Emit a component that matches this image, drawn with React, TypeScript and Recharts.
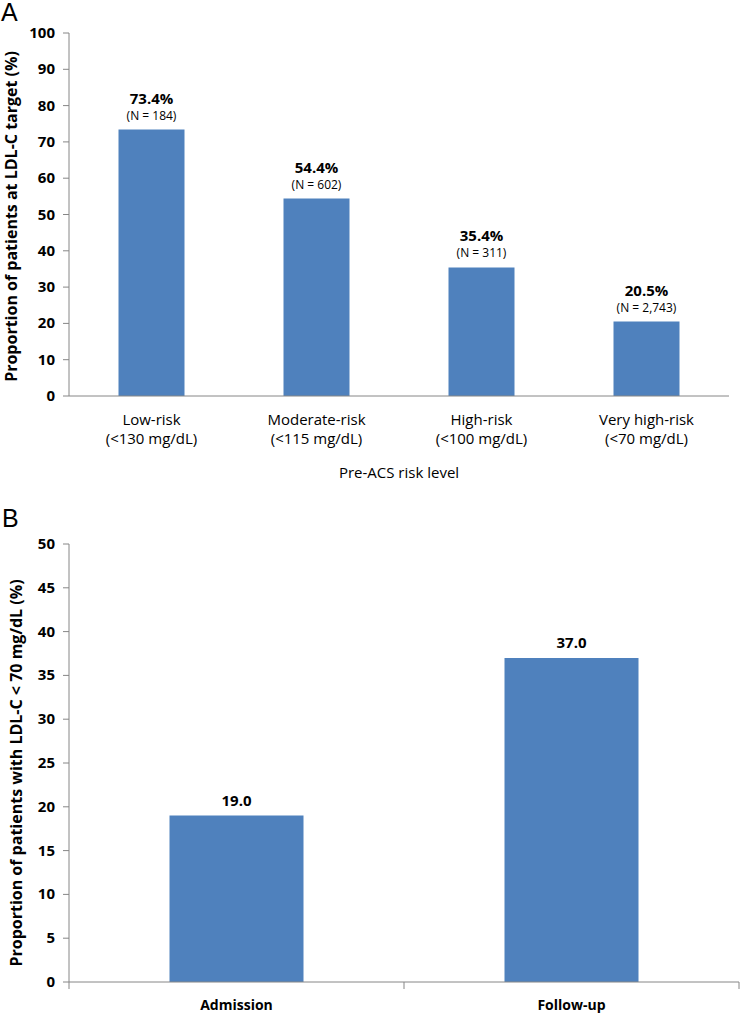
import { Bar, BarChart, LabelList, XAxis, YAxis } from "recharts";

const riskLevels = ["Low-risk", "Moderate-risk", "High-risk", "Very high-risk"];
const riskTargets = ["(<130 mg/dL)", "(<115 mg/dL)", "(<100 mg/dL)", "(<70 mg/dL)"];
const atTarget = [73.4, 54.4, 35.4, 20.5];
const patientCounts = ["184", "602", "311", "2,743"];
const ticksA = [0, 10, 20, 30, 40, 50, 60, 70, 80, 90, 100];

const timepoints = ["Admission", "Follow-up"];
const below70 = [19.0, 37.0];
const ticksB = [0, 5, 10, 15, 20, 25, 30, 35, 40, 45, 50];

const FONT = "'Open Sans', sans-serif";
const BLUE = "#4F81BD";
const AXIS = "#868686";

const dataA = riskLevels.map((name, i) => ({
  name,
  target: riskTargets[i],
  value: atTarget[i],
  n: patientCounts[i],
}));

const dataB = timepoints.map((name, i) => ({ name, value: below70[i] }));

const TickA = (props: any) => {
  const { x, y, payload, index } = props;
  return (
    <g>
      <text x={x} y={y + 21} textAnchor="middle" fontSize={15} fontFamily={FONT} fill="#000">
        {payload.value}
      </text>
      <text x={x} y={y + 40} textAnchor="middle" fontSize={15} fontFamily={FONT} fill="#000">
        {dataA[index]?.target}
      </text>
    </g>
  );
};

const TickB = (props: any) => {
  const { x, y, payload, index } = props;
  const off = payload.offset ?? 0;
  return (
    <g>
      <line x1={x - off} x2={x - off} y1={y - 8} y2={y - 1} stroke={AXIS} />
      {index === dataB.length - 1 && (
        <line x1={x + off} x2={x + off} y1={y - 8} y2={y - 1} stroke={AXIS} />
      )}
      <text x={x} y={y + 20} textAnchor="middle" fontSize={14} fontWeight="bold" fontFamily={FONT} fill="#000">
        {payload.value}
      </text>
    </g>
  );
};

const YTick = (props: any) => {
  const { x, y, payload } = props;
  return (
    <text x={x - 6} y={y + 5} textAnchor="end" fontSize={15} fontWeight="bold" fontFamily={FONT} fill="#000">
      {payload.value}
    </text>
  );
};

const LabelA = (props: any) => {
  const { x, y, width, index } = props;
  const cx = x + width / 2;
  return (
    <g>
      <text x={cx} y={y - 26} textAnchor="middle" fontSize={15} fontWeight="bold" fontFamily={FONT} fill="#000">
        {atTarget[index].toFixed(1)}%
      </text>
      <text x={cx} y={y - 10} textAnchor="middle" fontSize={12} fontFamily={FONT} fill="#000">
        (N = {patientCounts[index]})
      </text>
    </g>
  );
};

const LabelB = (props: any) => {
  const { x, y, width, index } = props;
  return (
    <text x={x + width / 2} y={y - 10} textAnchor="middle" fontSize={15} fontWeight="bold" fontFamily={FONT} fill="#000">
      {below70[index].toFixed(1)}
    </text>
  );
};

const yTitle = (text: string, cx: number, shift: number) => (props: any) => {
  const vb = props.viewBox;
  const cy = vb.y + vb.height / 2 + shift;
  return (
    <text
      x={cx}
      y={cy}
      transform={`rotate(-90 ${cx} ${cy})`}
      textAnchor="middle"
      dominantBaseline="central"
      fontSize={16}
      fontWeight="bold"
      fontFamily={FONT}
      fill="#000"
    >
      {text}
    </text>
  );
};

export default function App() {
  return (
    <div style={{ position: "relative", width: 740, height: 1013, background: "#fff" }}>
      <style>{`body{margin:0}`}</style>
      <div style={{ position: "absolute", left: 0, top: 0 }}>
        <BarChart width={740} height={490} data={dataA} margin={{ top: 33, right: 11, left: 0, bottom: 0 }} barCategoryGap="30%">
          <XAxis
            dataKey="name"
            height={94}
            tickLine={false}
            axisLine={{ stroke: AXIS }}
            tick={<TickA />}
            interval={0}
            label={{
              content: (p: any) => (
                <text
                  x={p.viewBox.x + p.viewBox.width / 2}
                  y={478}
                  textAnchor="middle"
                  fontSize={15}
                  fontFamily={FONT}
                  fill="#000"
                >
                  Pre-ACS risk level
                </text>
              ),
            }}
          />
          <YAxis
            width={69}
            domain={[0, 100]}
            ticks={ticksA}
            interval={0}
            tickSize={6}
            tickLine={{ stroke: AXIS }}
            axisLine={{ stroke: AXIS }}
            tick={<YTick />}
            label={{ content: yTitle("Proportion of patients at LDL-C  target (%)", 11, 2) }}
          />
          <Bar dataKey="value" fill={BLUE} isAnimationActive={false}>
            <LabelList dataKey="value" content={<LabelA />} />
          </Bar>
        </BarChart>
      </div>
      <div style={{ position: "absolute", left: 0, top: 485 }}>
        <BarChart width={740} height={528} data={dataB} margin={{ top: 59, right: 1, left: 0, bottom: 0 }} barCategoryGap="30%">
          <XAxis
            dataKey="name"
            height={31}
            tickLine={false}
            axisLine={{ stroke: AXIS }}
            tick={<TickB />}
            interval={0}
          />
          <YAxis
            width={69}
            domain={[0, 50]}
            ticks={ticksB}
            interval={0}
            tickSize={6}
            tickLine={{ stroke: AXIS }}
            axisLine={{ stroke: AXIS }}
            tick={<YTick />}
            label={{ content: yTitle("Proportion of patients with LDL-C < 70 mg/dL (%)", 16, 10) }}
          />
          <Bar dataKey="value" fill={BLUE} isAnimationActive={false}>
            <LabelList dataKey="value" content={<LabelB />} />
          </Bar>
        </BarChart>
      </div>
      <svg
        width={740}
        height={1013}
        style={{ position: "absolute", left: 0, top: 0, pointerEvents: "none" }}
      >
        <text x={1} y={21} fontSize={25} fontFamily="'Liberation Sans', Arial, sans-serif" fill="#000">
          A
        </text>
        <text x={2} y={527} fontSize={25} fontFamily="'Liberation Sans', Arial, sans-serif" fill="#000">
          B
        </text>
      </svg>
    </div>
  );
}
